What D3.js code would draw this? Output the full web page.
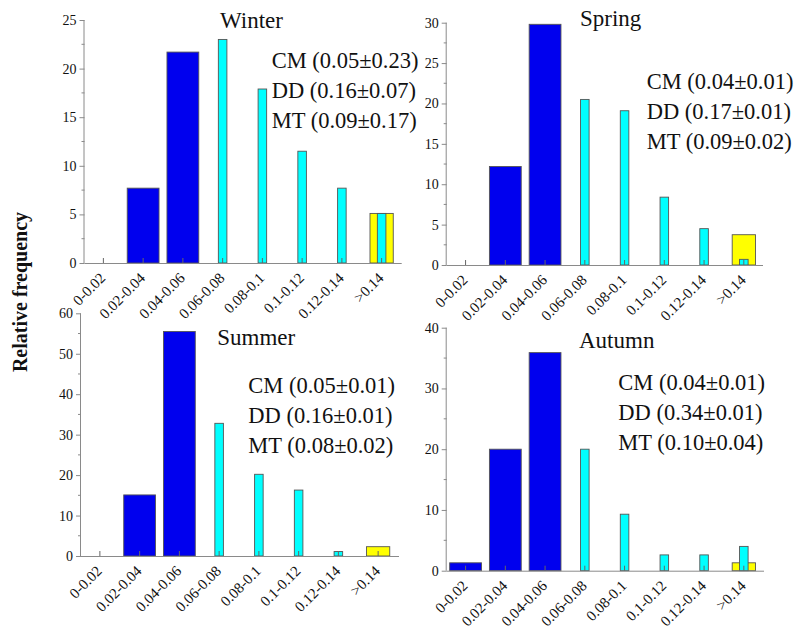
<!DOCTYPE html>
<html><head><meta charset="utf-8">
<script src="https://cdn.jsdelivr.net/npm/d3@7"></script>
<style>body{margin:0;background:#fff;} svg{display:block;}</style>
</head><body>
<svg id="c" width="798" height="629"></svg>
<script>
const categories = ["0-0.02","0.02-0.04","0.04-0.06","0.06-0.08","0.08-0.1","0.1-0.12","0.12-0.14",">0.14"];
const seasons = ["Winter","Spring","Summer","Autumn"];
// CM (blue), MT (cyan), DD (yellow) relative frequency per bin
const cmWinter = [0, 7.7, 21.7, 0, 0, 0, 0, 0];
const mtWinter = [0, 0, 0, 23.0, 17.9, 11.5, 7.7, 5.1];
const ddWinter = [0, 0, 0, 0, 0, 0, 0, 5.1];
const cmSpring = [0, 12.2, 29.8, 0, 0, 0, 0, 0];
const mtSpring = [0, 0, 0, 20.5, 19.1, 8.4, 4.5, 0.7];
const ddSpring = [0, 0, 0, 0, 0, 0, 0, 3.75];
const cmSummer = [0, 15.1, 55.5, 0, 0, 0, 0, 0];
const mtSummer = [0, 0, 0, 32.8, 20.2, 16.3, 1.1, 0];
const ddSummer = [0, 0, 0, 0, 0, 0, 0, 2.3];
const cmAutumn = [1.3, 20.0, 35.9, 0, 0, 0, 0, 0];
const mtAutumn = [0, 0, 0, 20.0, 9.3, 2.6, 2.6, 4.0];
const ddAutumn = [0, 0, 0, 0, 0, 0, 0, 1.3];
const statsWinter = ["CM (0.05\u00b10.23)", "DD (0.16\u00b10.07)", "MT (0.09\u00b10.17)"];
const statsSpring = ["CM (0.04\u00b10.01)", "DD (0.17\u00b10.01)", "MT (0.09\u00b10.02)"];
const statsSummer = ["CM (0.05\u00b10.01)", "DD (0.16\u00b10.01)", "MT (0.08\u00b10.02)"];
const statsAutumn = ["CM (0.04\u00b10.01)", "DD (0.34\u00b10.01)", "MT (0.10\u00b10.04)"];
const yMax = [25, 30, 60, 40];
const yStep = [5, 5, 10, 10];
const yLabel = "Relative frequency";

const panelData = [
  {cm: cmWinter, mt: mtWinter, dd: ddWinter, stats: statsWinter},
  {cm: cmSpring, mt: mtSpring, dd: ddSpring, stats: statsSpring},
  {cm: cmSummer, mt: mtSummer, dd: ddSummer, stats: statsSummer},
  {cm: cmAutumn, mt: mtAutumn, dd: ddAutumn, stats: statsAutumn}
];
// layout
const layout = [
  {left: 84.5, top: 20, bottom: 263, right: 401.7, title: [220, 28], stat: [271.7, 68.3]},
  {left: 446.7, top: 22.7, bottom: 265, right: 763, title: [580, 26], stat: [646.7, 89]},
  {left: 81, top: 313.3, bottom: 556, right: 399, title: [217.3, 345], stat: [248.3, 393]},
  {left: 446.7, top: 327.7, bottom: 570.7, right: 764, title: [579, 348.3], stat: [618.3, 390]}
];
const colors = {cm: "#0000ee", mt: "#00ffff", dd: "#ffff00"};
const widths = {cm: 0.80, dd: 0.585, mt: 0.215};
const axisColor = "#8a8a8a";
const textColor = "#111";
const serif = "Liberation Serif";

const svg = d3.select("#c");

seasons.forEach((season, i) => {
  const L = layout[i], D = panelData[i];
  const x = d3.scaleBand().domain(categories).range([L.left - 1, L.left + 317]).padding(0);
  const y = d3.scaleLinear().domain([0, yMax[i]]).range([L.bottom, L.top]);
  const g = svg.append("g");

  ["cm", "dd", "mt"].forEach(key => {
    const w = x.bandwidth() * widths[key];
    g.selectAll(null).data(categories.map((c, j) => ({c, v: D[key][j]})).filter(d => d.v > 0))
      .enter().append("rect")
      .attr("x", d => x(d.c) + x.bandwidth() / 2 - w / 2)
      .attr("y", d => y(d.v))
      .attr("width", w)
      .attr("height", d => y(0) - y(d.v))
      .attr("fill", colors[key])
      .attr("stroke", "#555")
      .attr("stroke-width", 0.9);
  });

  // y axis
  const majors = d3.range(0, yMax[i] + 1e-9, yStep[i]);
  const minors = d3.range(yStep[i] / 2, yMax[i], yStep[i]);
  const ya = g.append("g").attr("transform", `translate(${L.left},0)`)
    .call(d3.axisLeft(y).tickValues(majors).tickSize(5).tickPadding(3).tickFormat(d3.format("d")));
  ya.attr("font-family", serif).attr("font-size", 14);
  ya.select(".domain").attr("stroke", axisColor).attr("d", `M-0.5,${L.bottom}V${L.top}`);
  ya.selectAll(".tick line").attr("stroke", axisColor);
  ya.selectAll(".tick text").attr("fill", textColor);
  g.selectAll(null).data(minors).enter().append("line")
    .attr("x1", L.left - 3).attr("x2", L.left).attr("y1", d => y(d)).attr("y2", d => y(d))
    .attr("stroke", axisColor);

  // x axis
  const xa = g.append("g").attr("transform", `translate(0,${L.bottom})`)
    .call(d3.axisBottom(x).tickSize(-5).tickSizeOuter(0).tickPadding(0));
  xa.attr("font-family", serif).attr("font-size", 15);
  xa.select(".domain").attr("stroke", axisColor).attr("d", `M${L.left},0.5H${L.right}`);
  xa.selectAll(".tick line").attr("stroke", "#666");
  xa.selectAll(".tick text")
    .attr("fill", textColor)
    .attr("text-anchor", "end").attr("dy", null).attr("y", 0)
    .attr("transform", "translate(3,16) rotate(-45)");

  g.append("text").attr("x", L.title[0]).attr("y", L.title[1]).text(season)
    .attr("fill", textColor).attr("font-family", serif).attr("font-size", 23);
  g.selectAll(null).data(D.stats).enter().append("text")
    .attr("x", L.stat[0]).attr("y", (d, k) => L.stat[1] + k * 30)
    .attr("fill", textColor).attr("font-family", serif).attr("font-size", 22.5).text(d => d);
});

svg.append("text").attr("transform", "translate(27,292) rotate(-90)")
  .attr("text-anchor", "middle").attr("font-weight", "bold").attr("font-size", 20)
  .attr("font-family", serif).attr("fill", textColor).text(yLabel);
</script>
</body></html>
